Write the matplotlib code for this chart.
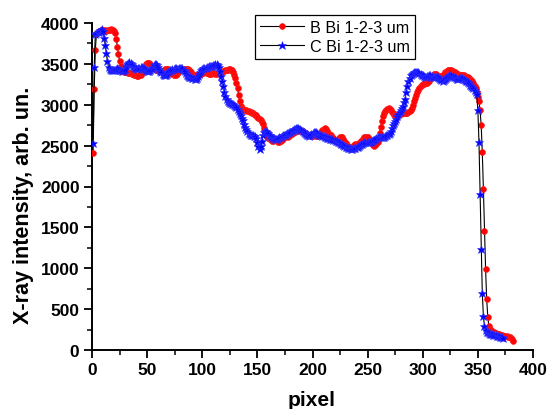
import numpy as np
import matplotlib
matplotlib.use("Agg")
import matplotlib.pyplot as plt

# ---------------- data (pixel index starts at 1) ----------------
b_label = "B Bi 1-2-3 um"
c_label = "C Bi 1-2-3 um"

b_values = [
    2410, 3190, 3670, 3860, 3890, 3900, 3900, 3910, 3920, 3920,
    3910, 3900, 3900, 3910, 3920, 3920, 3930, 3920, 3910, 3900,
    3880, 3810, 3710, 3620, 3540, 3470, 3430, 3410, 3400, 3395,
    3400, 3395, 3390, 3390, 3385, 3380, 3375, 3370, 3365, 3360,
    3355, 3355, 3360, 3370, 3390, 3420, 3450, 3480, 3500, 3510,
    3515, 3510, 3500, 3480, 3460, 3445, 3435, 3430, 3425, 3420,
    3415, 3410, 3410, 3415, 3425, 3435, 3440, 3440, 3435, 3425,
    3410, 3395, 3380, 3370, 3365, 3370, 3380, 3395, 3410, 3420,
    3430, 3435, 3440, 3440, 3440, 3440, 3435, 3425, 3410, 3395,
    3380, 3370, 3365, 3360, 3360, 3365, 3370, 3375, 3380, 3385,
    3390, 3395, 3395, 3390, 3385, 3380, 3380, 3380, 3385, 3385,
    3385, 3380, 3380, 3385, 3390, 3395, 3400, 3405, 3410, 3415,
    3420, 3425, 3430, 3435, 3435, 3430, 3420, 3400, 3370, 3330,
    3270, 3200, 3120, 3050, 2990, 2960, 2945, 2935, 2930, 2930,
    2925, 2920, 2915, 2910, 2905, 2900, 2890, 2880, 2870, 2855,
    2840, 2825, 2810, 2790, 2760, 2720, 2680, 2640, 2610, 2590,
    2575, 2565, 2560, 2560, 2565, 2570, 2565, 2555, 2545, 2545,
    2555, 2570, 2585, 2600, 2610, 2615, 2615, 2610, 2615, 2625,
    2640, 2655, 2665, 2670, 2675, 2680, 2685, 2690, 2690, 2685,
    2680, 2670, 2660, 2650, 2640, 2630, 2625, 2620, 2620, 2620,
    2625, 2625, 2620, 2615, 2615, 2625, 2645, 2670, 2690, 2705,
    2710, 2700, 2680, 2660, 2645, 2635, 2625, 2610, 2590, 2570,
    2560, 2560, 2570, 2590, 2605, 2610, 2600, 2580, 2555, 2530,
    2510, 2490, 2475, 2465, 2465, 2475, 2490, 2505, 2515, 2520,
    2525, 2530, 2540, 2555, 2570, 2585, 2600, 2610, 2610, 2600,
    2580, 2560, 2540, 2520, 2505, 2500, 2505, 2520, 2550, 2600,
    2660, 2730, 2800, 2860, 2900, 2925, 2940, 2950, 2955, 2950,
    2935, 2915, 2895, 2880, 2870, 2870, 2875, 2880, 2885, 2890,
    2895, 2900, 2905, 2905, 2905, 2905, 2910, 2920, 2940, 2965,
    3000, 3040, 3080, 3115, 3150, 3180, 3205, 3225, 3240, 3250,
    3255, 3260, 3265, 3270, 3280, 3295, 3315, 3340, 3360, 3375,
    3380, 3375, 3365, 3355, 3350, 3350, 3355, 3365, 3380, 3395,
    3405, 3415, 3420, 3425, 3425, 3420, 3415, 3405, 3395, 3385,
    3380, 3375, 3370, 3370, 3370, 3365, 3360, 3350, 3345, 3340,
    3335, 3325, 3315, 3300, 3285, 3260, 3230, 3200, 3160, 3100,
    3050, 2930, 2750, 2420, 1970, 1460, 990, 620, 400, 295,
    260, 245, 235, 225, 215, 205, 200, 195, 190, 185,
    180, 178, 175, 172, 170, 168, 165, 160, 155, 145,
    130, 112,
]

c_values = [
    2530, 3460, 3870, 3880, 3885, 3895, 3905, 3915, 3925, 3900,
    3820, 3730, 3630, 3530, 3460, 3435, 3425, 3420, 3420, 3425,
    3430, 3440, 3445, 3440, 3430, 3420, 3415, 3410, 3420, 3440,
    3470, 3495, 3510, 3520, 3510, 3495, 3475, 3460, 3450, 3445,
    3440, 3445, 3455, 3460, 3460, 3455, 3445, 3435, 3425, 3415,
    3410, 3410, 3420, 3440, 3465, 3485, 3495, 3495, 3485, 3465,
    3440, 3415, 3395, 3380, 3370, 3365, 3370, 3380, 3395, 3410,
    3420, 3430, 3435, 3440, 3445, 3445, 3440, 3440, 3445, 3450,
    3450, 3445, 3430, 3410, 3390, 3370, 3355, 3345, 3340, 3335,
    3330, 3325, 3320, 3320, 3330, 3350, 3375, 3400, 3420, 3435,
    3445, 3450, 3455, 3460, 3465, 3470, 3475, 3480, 3480, 3485,
    3490, 3495, 3500, 3490, 3460, 3410, 3350, 3290, 3235, 3160,
    3110, 3075, 3050, 3035, 3025, 3020, 3015, 3005, 2995, 2985,
    2970, 2950, 2925, 2900, 2870, 2840, 2810, 2770, 2730, 2700,
    2680, 2660, 2645, 2635, 2630, 2625, 2620, 2615, 2590, 2550,
    2500, 2460, 2500, 2560, 2630, 2665, 2680, 2685, 2670, 2650,
    2630, 2615, 2605, 2595, 2590, 2585, 2580, 2585, 2595, 2605,
    2610, 2620, 2625, 2630, 2635, 2645, 2655, 2660, 2665, 2670,
    2680, 2690, 2700, 2705, 2710, 2710, 2710, 2705, 2700, 2690,
    2680, 2665, 2650, 2640, 2630, 2625, 2620, 2625, 2640, 2655,
    2665, 2670, 2665, 2655, 2645, 2635, 2630, 2625, 2620, 2615,
    2610, 2600, 2595, 2590, 2590, 2585, 2580, 2575, 2570, 2565,
    2560, 2555, 2545, 2540, 2535, 2525, 2515, 2505, 2495, 2485,
    2480, 2475, 2470, 2465, 2460, 2460, 2465, 2470, 2475, 2480,
    2485, 2495, 2505, 2515, 2525, 2535, 2540, 2545, 2545, 2540,
    2540, 2545, 2550, 2560, 2565, 2570, 2580, 2590, 2600, 2605,
    2605, 2600, 2600, 2605, 2610, 2615, 2625, 2635, 2645, 2655,
    2680, 2715, 2750, 2780, 2805, 2830, 2860, 2885, 2910, 2940,
    2965, 2990, 3030, 3075, 3150, 3230, 3290, 3330, 3360, 3380,
    3390, 3395, 3400, 3400, 3400, 3395, 3390, 3380, 3370, 3360,
    3350, 3345, 3345, 3350, 3355, 3360, 3360, 3355, 3345, 3340,
    3340, 3345, 3350, 3345, 3330, 3315, 3300, 3295, 3300, 3315,
    3330, 3345, 3355, 3360, 3360, 3360, 3355, 3345, 3335, 3325,
    3320, 3320, 3325, 3330, 3330, 3325, 3315, 3305, 3295, 3285,
    3275, 3260, 3245, 3230, 3215, 3200, 3180, 3160, 3130, 2930,
    2540, 1910, 1235, 700, 415, 290, 240, 225, 215, 205,
    200, 195, 190, 185, 180, 178, 175, 172, 170, 165,
    160, 155, 150,
]

b_x = np.arange(1, len(b_values) + 1)
c_x = np.arange(1, len(c_values) + 1)

x_ticks = [0, 50, 100, 150, 200, 250, 300, 350, 400]
y_ticks = [0, 500, 1000, 1500, 2000, 2500, 3000, 3500, 4000]
x_label = "pixel"
y_label = "X-ray intensity, arb. un."

# ---------------- plot ----------------
plt.rcParams['font.family'] = ['Liberation Sans', 'DejaVu Sans']

fig = plt.figure(figsize=(5.49, 4.10), dpi=100)
ax = fig.add_axes([92 / 549, 1 - 351 / 410, 441 / 549, 327 / 410])

ax.plot(b_x, b_values, color='black', lw=0.8, marker='o', ms=4.3,
        mfc='#ff0000', mec='#ff2020', mew=0.4, label=b_label, zorder=3)
ax.plot(c_x, c_values, color='black', lw=0.8, marker='*', ms=6.3,
        mfc='#0000ff', mec='#3030ff', mew=0.4, label=c_label, zorder=4)

ax.set_xlim(0, 400)
ax.set_ylim(0, 4000)
ax.set_xticks(x_ticks)
ax.set_yticks(y_ticks)
ax.set_xticks(np.arange(25, 400, 50), minor=True)
ax.set_yticks(np.arange(250, 4000, 500), minor=True)

for s in ['top', 'right']:
    ax.spines[s].set_visible(False)
for s in ['left', 'bottom']:
    ax.spines[s].set_linewidth(1.4)

ax.tick_params(which='major', direction='out', length=6, width=1.3,
               labelsize=12.5, pad=3)
ax.tick_params(which='minor', direction='out', length=3.5, width=1.1)
for lab in ax.get_xticklabels() + ax.get_yticklabels():
    lab.set_fontweight('bold')

ax.set_xlabel(x_label, fontsize=15, fontweight='bold')
ax.set_ylabel(y_label, fontsize=15.5, fontweight='bold')
ax.xaxis.set_label_coords(0.499, -0.122)
ax.yaxis.set_label_coords(-0.132, 0.445)

leg = ax.legend(loc='upper left', bbox_to_anchor=(0.370, 1.024),
                borderaxespad=0, fontsize=11.6, frameon=True, fancybox=False,
                edgecolor='black', framealpha=1, numpoints=1,
                handlelength=2.7, handletextpad=0.4, borderpad=0.3,
                labelspacing=0.25)
leg.get_frame().set_linewidth(0.9)
for h in leg.legend_handles:
    h.set_linewidth(0.8)

fig.savefig("out.png", dpi=100)
